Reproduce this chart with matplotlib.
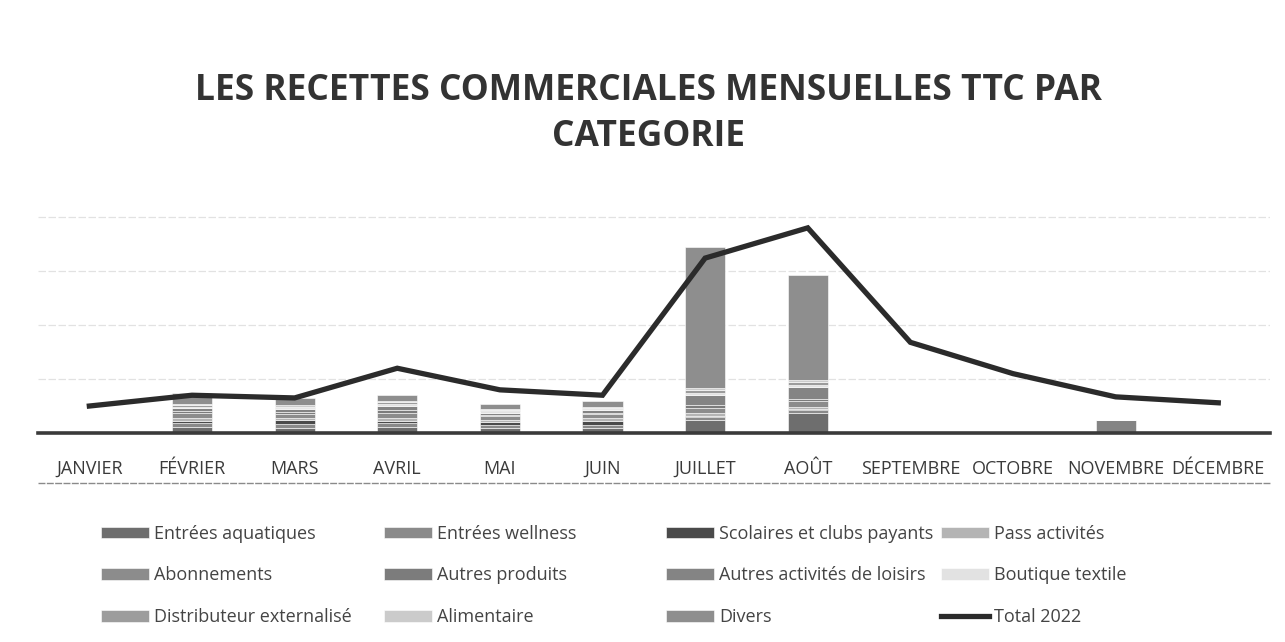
import numpy as np
import matplotlib.pyplot as plt
from matplotlib.lines import Line2D

plt.rcParams['font.family'] = ['Open Sans', 'DejaVu Sans']

# --- données (unité arbitraire = un intervalle de grille) ---
mois = ["JANVIER", "FÉVRIER", "MARS", "AVRIL", "MAI", "JUIN", "JUILLET",
        "AOÛT", "SEPTEMBRE", "OCTOBRE", "NOVEMBRE", "DÉCEMBRE"]

entrees_aquatiques = [0, 0.12, 0.10, 0.12, 0.10, 0.10, 0.25, 0.38, 0, 0, 0, 0]
entrees_wellness = [0, 0.06, 0.06, 0.06, 0.05, 0.05, 0.04, 0.04, 0, 0, 0, 0]
scolaires_clubs = [0, 0.05, 0.08, 0.05, 0.06, 0.08, 0.02, 0.02, 0, 0, 0, 0]
pass_activites = [0, 0.04, 0.04, 0.05, 0.04, 0.04, 0.06, 0.05, 0, 0, 0, 0]
abonnements = [0, 0.10, 0.08, 0.10, 0.06, 0.08, 0.10, 0.10, 0, 0, 0, 0]
autres_produits = [0, 0.04, 0.03, 0.04, 0.03, 0.03, 0.04, 0.04, 0, 0, 0, 0]
autres_loisirs = [0, 0.05, 0.05, 0.08, 0.04, 0.04, 0.20, 0.22, 0, 0, 0.24, 0]
boutique_textile = [0, 0.02, 0.02, 0.03, 0.02, 0.02, 0.04, 0.04, 0, 0, 0, 0]
distributeur = [0, 0.04, 0.03, 0.04, 0.03, 0.03, 0.05, 0.05, 0, 0, 0, 0]
alimentaire = [0, 0.02, 0.02, 0.03, 0.02, 0.02, 0.04, 0.04, 0, 0, 0, 0]
divers = [0, 0.20, 0.14, 0.10, 0.09, 0.11, 2.60, 1.95, 0, 0, 0, 0]

total_2022 = [0.50, 0.70, 0.65, 1.20, 0.80, 0.70, 3.24, 3.80, 1.68, 1.10, 0.67, 0.56]

series = [
    ("Entrées aquatiques", entrees_aquatiques, "#6e6e6e"),
    ("Entrées wellness", entrees_wellness, "#8a8a8a"),
    ("Scolaires et clubs payants", scolaires_clubs, "#4a4a4a"),
    ("Pass activités", pass_activites, "#b4b4b4"),
    ("Abonnements", abonnements, "#8c8c8c"),
    ("Autres produits", autres_produits, "#7c7c7c"),
    ("Autres activités de loisirs", autres_loisirs, "#848484"),
    ("Boutique textile", boutique_textile, "#e2e2e2"),
    ("Distributeur externalisé", distributeur, "#9c9c9c"),
    ("Alimentaire", alimentaire, "#cbcbcb"),
    ("Divers", divers, "#8e8e8e"),
]

fig = plt.figure(figsize=(12.85, 6.42), dpi=100)
ax = fig.add_axes([0.0296, 0.3255, 0.9584, 0.4205])

x = np.arange(len(mois))
bottom = np.zeros(len(mois))
handles = {}
for nom, vals, col in series:
    b = ax.bar(x, vals, width=0.39, bottom=bottom, color=col,
               edgecolor="white", linewidth=0.4, label=nom, zorder=2)
    bottom += np.array(vals)
    handles[nom] = b

ln, = ax.plot(x, total_2022, color="#2b2b2b", lw=3.8, solid_joinstyle="miter",
              label="Total 2022", zorder=3)
handles["Total 2022"] = ln

ax.set_xlim(-0.5, len(mois) - 0.5)
ax.set_ylim(0, 5)
ax.set_yticks([1, 2, 3, 4])
ax.yaxis.grid(True, color="#e2e2e2", lw=0.9, linestyle=(0, (6, 2)))
ax.set_axisbelow(True)
ax.tick_params(axis="y", left=False, labelleft=False)
ax.tick_params(axis="x", bottom=False, pad=16)
ax.set_xticks(x)
ax.set_xticklabels(mois, fontsize=13, color="#3a3a3a")
for s in ["top", "right", "left"]:
    ax.spines[s].set_visible(False)
ax.spines["bottom"].set_color("#3a3a3a")
ax.spines["bottom"].set_linewidth(2.6)

# ligne sous les libellés
fig.add_artist(Line2D([0.0296, 0.988], [1 - 483 / 642, 1 - 483 / 642],
                      color="#8a8a8a", lw=1.0, linestyle=(0, (5, 1))))

fig.text(0.505, 1 - 91 / 642, "LES RECETTES COMMERCIALES MENSUELLES TTC PAR",
         ha="center", va="center", fontsize=25.5, fontweight="bold", color="#333333")
fig.text(0.505, 1 - 137 / 642, "CATEGORIE",
         ha="center", va="center", fontsize=25.5, fontweight="bold", color="#333333")

# légende : quatre colonnes régulières
colonnes = [
    ["Entrées aquatiques", "Abonnements", "Distributeur externalisé"],
    ["Entrées wellness", "Autres produits", "Alimentaire"],
    ["Scolaires et clubs payants", "Autres activités de loisirs", "Divers"],
    ["Pass activités", "Boutique textile", "Total 2022"],
]
col_x = [100, 383, 665, 940]
for noms, cx in zip(colonnes, col_x):
    leg = fig.legend([handles[n] for n in noms], noms, loc="upper left",
                     bbox_to_anchor=((cx - 12) / 1285, 1 - 512 / 642),
                     frameon=False, fontsize=13, handlelength=2.7,
                     handleheight=0.6, labelspacing=1.32, handletextpad=0.25,
                     borderpad=0.2)
    for t in leg.get_texts():
        t.set_color("#444444")

fig.savefig("out.png", dpi=100)
